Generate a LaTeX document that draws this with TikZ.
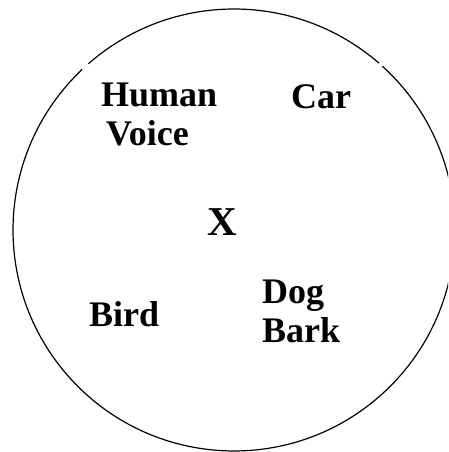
\documentclass[tikz,border=0pt]{standalone}
\usepackage{fontspec}
\setmainfont{Liberation Serif}

\tikzset{
  lbl/.style={font=\fontsize{36}{38.5}\selectfont\bfseries, align=left,
              inner sep=0pt, anchor=north west},
  ring/.style={line width=1.2pt}
}

\begin{document}
\begin{tikzpicture}[x=1pt,y=1pt]

% --- Geometry settings ---
\def\cx{234}   % centre of the circle
\def\cy{222}
\def\R{221}    % radius

\useasboundingbox (0,0) rectangle (448,452);
\clip (0,0) rectangle (448,452);

% --- The circle, with two small breaks near the top ---
\draw[ring] ({\cx+\R*cos(49)},{\cy+\R*sin(49)})
  arc[start angle=49, end angle=131.2, radius=\R];
\draw[ring] ({\cx+\R*cos(133.4)},{\cy+\R*sin(133.4)})
  arc[start angle=133.4, end angle=407.8, radius=\R];

% --- Sound sources ---
\node[lbl] (human) at (101,369) {Human\\\hspace*{5pt}Voice};
\node[lbl] (car)   at (291,368) {Car};
\node[lbl] (bird)  at (89,151) {Bird};
\node[lbl] (dog)   at (262,172) {Dog\\Bark};

% --- Listener ---
\node[lbl, font=\fontsize{41}{45}\selectfont\bfseries] (x) at (207,244) {X};

\end{tikzpicture}
\end{document}
